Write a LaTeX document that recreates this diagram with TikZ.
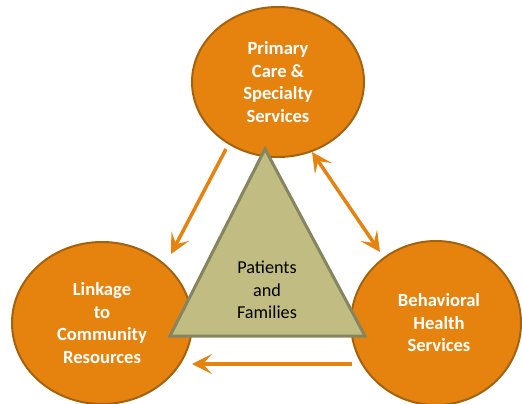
\documentclass[tikz,border=0pt]{standalone}
\usepackage{fontspec}
\setmainfont{Carlito}
\usetikzlibrary{positioning,shapes.geometric,arrows.meta}
\definecolor{careorange}{HTML}{E6830F}
\definecolor{careedge}{HTML}{A4620F}
\definecolor{famfill}{HTML}{C1BC82}
\definecolor{famedge}{HTML}{85855F}
\begin{document}
\begin{tikzpicture}[
  x=1pt, y=-1pt,
  service/.style = {ellipse, draw=careedge, line width=2pt, fill=careorange,
                    text=white, align=center, inner sep=0pt,
                    font=\bfseries\fontsize{18.6}{22.5}\selectfont},
  family/.style  = {draw=famedge, line width=3pt, fill=famfill, line join=miter},
  flow/.style    = {-{Stealth[length=20pt,width=20pt,inset=9pt]},
                    draw=careorange, line width=3.5pt}
]
\useasboundingbox (0,0) rectangle (522,404);

\node[service, minimum width=172pt, minimum height=150pt] (prim) at (278,82)
  {Primary\\ Care \&\\ Specialty\\ Services};
\node[service, minimum width=180pt, minimum height=162pt] (link) at (102,323)
  {Linkage\\ to\\ Community\\ Resources};
\node[service, minimum width=170pt, minimum height=164pt] (behav) at (436,323)
  {\hspace*{6pt}Behavioral\\ \hspace*{6pt}Health\\ \hspace*{6pt}Services};

\coordinate (apex) at (265,149);
\coordinate (baseR) at (365,336);
\coordinate (baseL) at (170,336);
\draw[family] (apex) -- (baseR) -- (baseL) -- cycle;
\node[align=center, font=\fontsize{18.2}{22.5}\selectfont] (fam) at (267,290)
  {Patients\\ and\\ Families};

\coordinate (p1) at (226,149);
\coordinate (l1) at (171,254);
\coordinate (p2) at (312,152);
\coordinate (b2) at (380,252);
\coordinate (b3) at (352,364);
\coordinate (l3) at (192,364);

\draw[flow] (p1) -- (l1);
\draw[flow, {Stealth[length=20pt,width=20pt,inset=9pt]}-{Stealth[length=20pt,width=20pt,inset=9pt]}] (p2) -- (b2);
\draw[flow] (b3) -- (l3);

\end{tikzpicture}
\end{document}
